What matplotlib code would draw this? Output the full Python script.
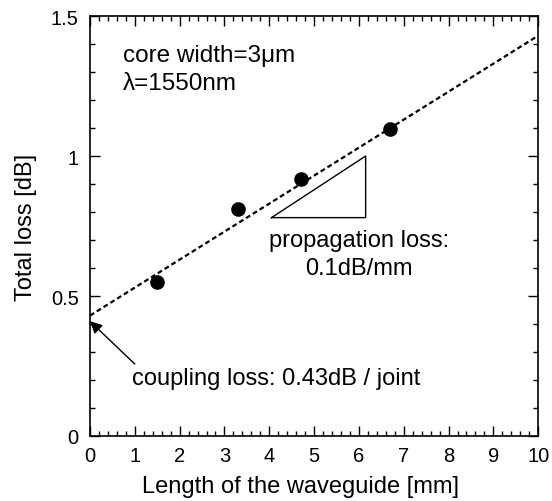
import numpy as np
import matplotlib
matplotlib.use("Agg")
import matplotlib.pyplot as plt
from matplotlib.ticker import MultipleLocator

plt.rcParams['font.family'] = ['Liberation Sans', 'DejaVu Sans']

# measured points
length_mm = [1.5, 3.3, 4.7, 6.7]
total_loss_db = [0.551, 0.81, 0.918, 1.096]

# fitted line: total loss = coupling + propagation * length
coupling_db = 0.43
slope_db_per_mm = 0.1
fit_x = [0, 10]

# slope triangle corners
tri_x = [4.05, 6.15, 6.15, 4.05]
tri_y = [0.78, 0.78, 1.0, 0.78]

x_ticks = list(range(0, 11))
y_ticks = [0, 0.5, 1, 1.5]
y_tick_labels = ['0', '0.5', '1', '1.5']

fig = plt.figure(figsize=(5.52, 5.02), dpi=100)
ax = fig.add_axes([0.163, 0.1295, 0.812, 0.8365])

fit_y = [coupling_db + slope_db_per_mm * x for x in fit_x]
ax.plot(fit_x, fit_y, color='black', linestyle=(0, (2.2, 1.4)), linewidth=1.6)
ax.plot(length_mm, total_loss_db, 'o', color='black', markersize=9.5)
ax.plot(tri_x, tri_y, color='black', linewidth=1.0)

ax.text(0.73, 1.34, 'core width=3\u03bcm', fontsize=17.5, va='baseline')
ax.text(0.73, 1.239, '\u03bb=1550nm', fontsize=17.5, va='baseline')
ax.text(6.0, 0.679, 'propagation loss:', fontsize=17, ha='center', va='baseline')
ax.text(6.0, 0.579, '0.1dB/mm', fontsize=17, ha='center', va='baseline')
ax.text(0.93, 0.186, 'coupling loss: 0.43dB / joint', fontsize=17, va='baseline')
ax.annotate('', xy=(0.0, 0.41), xytext=(1.0, 0.257),
            arrowprops=dict(arrowstyle='-|>', color='black', lw=1.0,
                            mutation_scale=18, shrinkA=0, shrinkB=0))

ax.set_xlim(0, 10)
ax.set_ylim(0, 1.5)
ax.set_xticks(x_ticks)
ax.set_xticklabels([str(i) for i in x_ticks])
ax.set_yticks(y_ticks)
ax.set_yticklabels(y_tick_labels)
ax.xaxis.set_minor_locator(MultipleLocator(0.2))
ax.yaxis.set_minor_locator(MultipleLocator(0.1))
ax.tick_params(which='both', direction='in', top=True, right=True, labelsize=14.5, width=1.0)
ax.tick_params(which='major', length=7)
ax.tick_params(axis='x', which='major', pad=7)
ax.tick_params(axis='y', which='major', pad=8)
ax.tick_params(which='minor', length=3.5)
for s in ax.spines.values():
    s.set_linewidth(1.2)

ax.set_xlabel('Length of the waveguide [mm]', fontsize=17)
ax.set_ylabel('Total loss [dB]', fontsize=17)
ax.xaxis.set_label_coords(0.47, -0.093)
ax.yaxis.set_label_coords(-0.118, 0.5)

fig.savefig('out.png', dpi=100)
